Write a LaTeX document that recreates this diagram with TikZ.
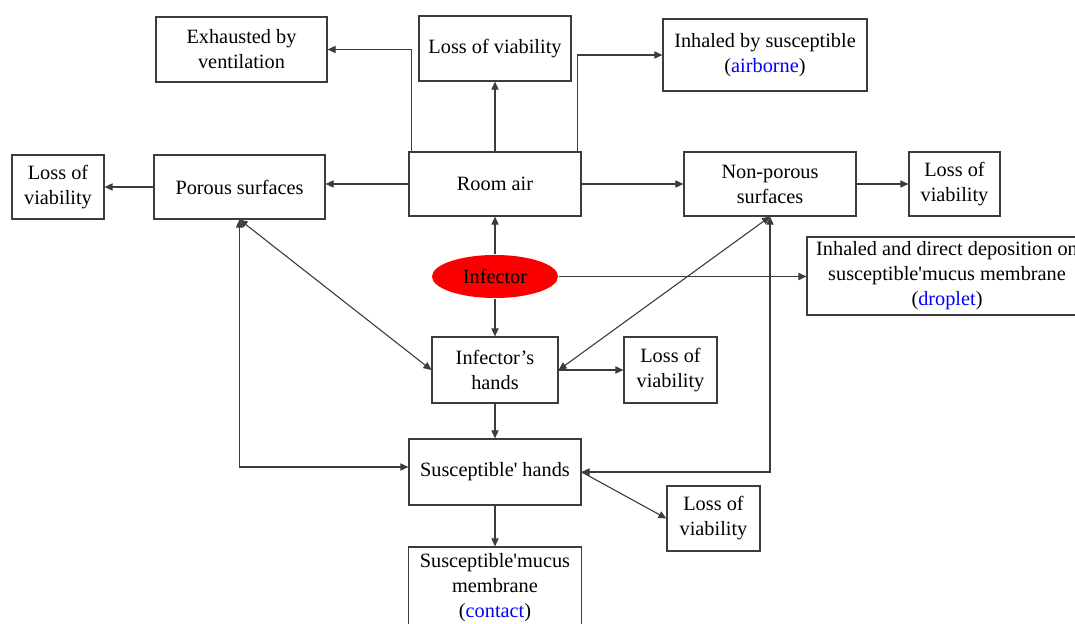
\documentclass[tikz,border=0pt]{standalone}
\usepackage{fontspec}
\setmainfont{Liberation Serif}
\usetikzlibrary{arrows.meta,shapes.geometric}
\definecolor{flowRed}{RGB}{250,0,0}
\definecolor{flowBlue}{RGB}{0,0,255}
\definecolor{flowGrey}{RGB}{60,60,60}
\newcommand{\flowword}[1]{(\textcolor{flowBlue}{#1})}

\begin{document}
\begin{tikzpicture}[x=0.5pt,y=-0.5pt,
    flowbox/.style={draw=flowGrey,line width=0.6pt,align=center,inner sep=0pt,
      font=\fontsize{10.15}{12.5}\selectfont},
    arr/.style={draw=flowGrey,line width=0.55pt,-{Triangle[length=4pt,width=3.6pt]}},
    dblarr/.style={draw=flowGrey,line width=0.55pt,{Triangle[length=4pt,width=3.6pt]}-{Triangle[length=4pt,width=3.6pt]}}]

    \path[use as bounding box,clip] (0,0) rectangle (1075,624);

    \node[flowbox,minimum width=85.5pt,minimum height=32.5pt] (exhaust) at (241.5,49.5) {Exhausted by\\ventilation};
    \node[flowbox,minimum width=76pt,minimum height=32.5pt] (lossTop) at (495,48.5) {Loss of viability};
    \node[flowbox,minimum width=102pt,minimum height=36pt] (airborne) at (765,55) {Inhaled by susceptible\\\flowword{airborne}};

    \node[flowbox,minimum width=46pt,minimum height=32pt] (lossLeft) at (58,187) {Loss of\\viability};
    \node[flowbox,minimum width=85.5pt,minimum height=32pt] (porous) at (239.5,187) {Porous surfaces};
    \node[flowbox,minimum width=86pt,minimum height=32pt] (room) at (495,184) {Room air};
    \node[flowbox,minimum width=86pt,minimum height=32pt] (nonporous) at (770,184) {Non-porous\\surfaces};
    \node[flowbox,minimum width=45.5pt,minimum height=32pt] (lossRight) at (954.5,184) {Loss of\\viability};

    \node[flowbox,ellipse,draw=none,fill=flowRed,minimum width=63pt,minimum height=21.5pt] (infector) at (495,276.5) {Infector};
    \node[flowbox,minimum width=140pt,minimum height=39pt] (droplet) at (947,276) {Inhaled and direct deposition on\\susceptible\textquotesingle mucus membrane\\\flowword{droplet}};

    \node[flowbox,minimum width=63pt,minimum height=33pt] (hands) at (495,370) {Infector's\\hands};
    \node[flowbox,minimum width=46.5pt,minimum height=33pt] (lossMid) at (670.5,370) {Loss of\\viability};
    \node[flowbox,minimum width=86pt,minimum height=33pt] (suscHands) at (495,472) {Susceptible\textquotesingle{} hands};
    \node[flowbox,minimum width=46.5pt,minimum height=32.5pt] (lossLow) at (713.5,518.5) {Loss of\\viability};
    \node[flowbox,minimum width=86.5pt,minimum height=41pt] (mucus) at (495,588) {Susceptible\textquotesingle mucus\\membrane\\\flowword{contact}};

    % room air
    \draw[arr] ([xshift=1.5pt]room.north west) |- (exhaust.east);
    \draw[arr] (room.north) -- (lossTop.south);
    \draw[arr] ([xshift=-2pt]room.north east) |- (airborne.west);
    \draw[arr] (room.west) -- (room.west -| porous.east);
    \draw[arr] (porous.west) -- (lossLeft.east);
    \draw[arr] (room.east) -- (nonporous.west);
    \draw[arr] (nonporous.east) -- (lossRight.west);

    % infector
    \draw[arr] (infector.north) -- (room.south);
    \draw[arr] (infector.south) -- (hands.north);
    \draw[arr] (infector.east) -- (infector.east -| droplet.west);

    % hands and surfaces
    \draw[dblarr] (porous.south) -- (hands.west);
    \draw[dblarr] (porous.south) |- ([yshift=2.5pt]suscHands.west);
    \draw[dblarr] (nonporous.south) -- (hands.east);
    \draw[dblarr] (nonporous.south) |- (suscHands.east);
    \draw[arr] (hands.east) -- (lossMid.west);
    \draw[arr] (hands.south) -- (suscHands.north);
    \draw[arr] (suscHands.east) -- (lossLow.west);
    \draw[arr] (suscHands.south) -- (mucus.north);

\end{tikzpicture}
\end{document}
